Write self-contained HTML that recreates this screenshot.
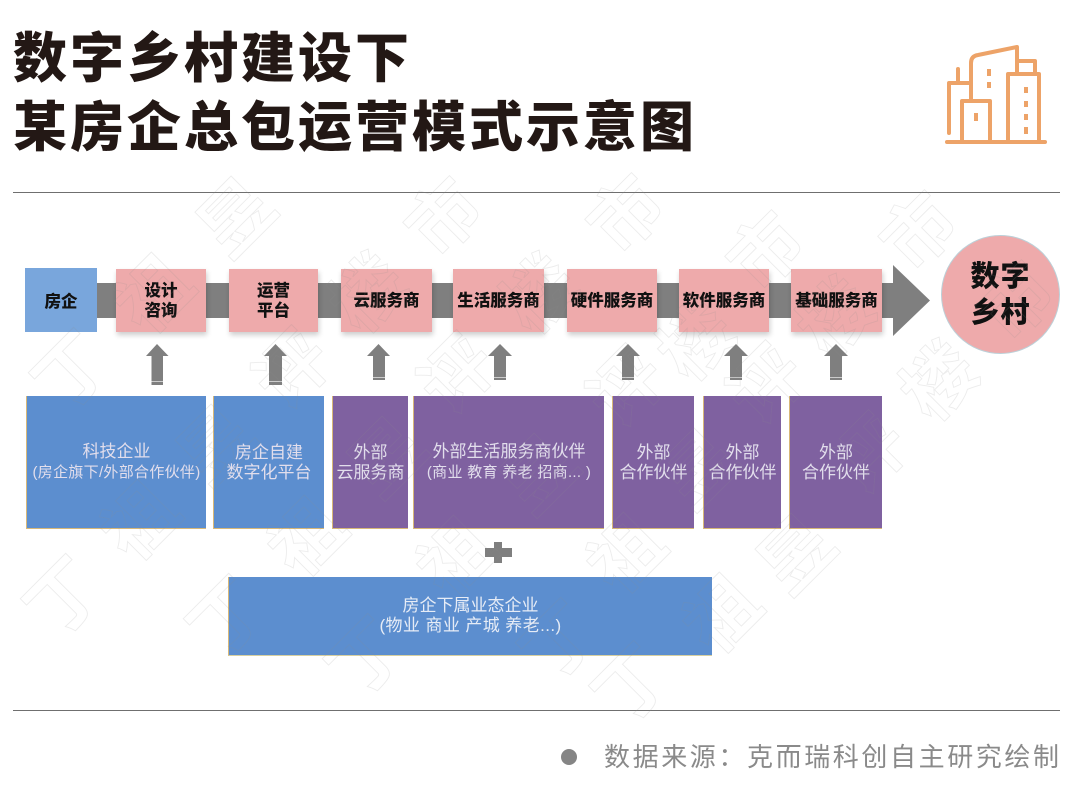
<!DOCTYPE html>
<html lang="zh">
<head>
<meta charset="utf-8">
<title>数字乡村建设下某房企总包运营模式示意图</title>
<style>
html,body{margin:0;padding:0;background:#fff}
#p{position:relative;width:1080px;height:802px;overflow:hidden;background:#fff;font-family:"Liberation Sans","Noto Sans CJK SC",sans-serif}
.a{position:absolute}
.t{position:absolute;left:13px;color:#231815;font-size:54px;font-weight:900;letter-spacing:3px;line-height:60px;white-space:nowrap}
.l{position:absolute;left:13px;width:1047px;height:1px;background:#6f6f6f}
.b{position:absolute;display:flex;align-items:center;justify-content:center;text-align:center;box-sizing:border-box}
.pk{top:269px;height:63px;background:#eeaaab;box-shadow:1px 3px 5px rgba(0,0,0,.2);color:#111;font-size:16.5px;font-weight:900;line-height:20px;white-space:nowrap}
.lo{top:396px;height:133px;color:#e2deec;font-size:17px;line-height:20px;white-space:nowrap;padding-top:1px;border-left:1px solid #d8b878;border-bottom:1px solid #d8b878}
.s{font-size:15px;letter-spacing:.3px}
.bl{background:#5c8ecf}
.pu{background:#7f61a0}
</style>
</head>
<body>
<div id="p">
<div class="t" style="top:29px">数字乡村建设下</div>
<div class="t" style="top:98px">某房企总包运营模式示意图</div>
<div class="l" style="top:192px"></div>
<div class="l" style="top:710px"></div>

<svg class="a" style="left:0;top:0" width="1080" height="802" viewBox="0 0 1080 802">
<g fill="none" stroke="#eda368" stroke-width="4" stroke-linecap="round" stroke-linejoin="round">
<path d="M947 142H1045"/>
<path d="M949 133V83H969"/>
<path d="M958 69V82"/>
<path d="M971 100V63Q971 56 978 55L1017 47V72"/>
<path d="M962 140V101H990V140"/>
<path d="M1008 140V74H1039V140"/>
<path d="M1018 61H1035V72"/>
<path d="M976 113V121M989 69V76M989 82V88M1026 87V93M1026 101V107M1026 114V120M1026 127V134" stroke-linecap="butt"/>
</g>
<rect x="97" y="283" width="796" height="35" fill="#7f7f7f"/>
<path d="M893 265L930 300.500L893 336Z" fill="#7f7f7f"/>
<g fill="#7f7f7f">
<path d="M157 344L168.500 356H163V385H151.500V356H146Z"/>
<path d="M275.500 344L287 356H282V385H269V356H264Z"/>
<path d="M378.500 344L390 356H385V380H373V356H367Z"/>
<path d="M500 344L512 356H506V380H494V356H488Z"/>
<path d="M628 344L640 356H634V380H622V356H616Z"/>
<path d="M736 344L748 356H742V380H730V356H724Z"/>
<path d="M836 344L848 356H842V380H830V356H824Z"/>
<rect x="494" y="542" width="8" height="21"/>
<rect x="485" y="548" width="27" height="9"/>
</g>
<g fill="#fff" opacity=".6">
<rect x="151" y="381" width="13" height="1"/>
<rect x="269" y="381" width="13" height="1"/>
<rect x="373" y="377" width="12" height="1"/>
<rect x="494" y="377" width="12" height="1"/>
<rect x="622" y="377" width="12" height="1"/>
<rect x="730" y="377" width="12" height="1"/>
<rect x="830" y="377" width="12" height="1"/>
</g>
<circle cx="569" cy="757" r="8" fill="#858585"/>
</svg>

<div class="b" style="left:25px;top:268px;width:72px;height:64px;background:#79a6dc;color:#111;font-size:16.5px;font-weight:900">房企</div>
<div class="b pk" style="left:116px;width:90px"><div>设计<br>咨询</div></div>
<div class="b pk" style="left:229px;width:89px"><div>运营<br>平台</div></div>
<div class="b pk" style="left:341px;width:91px">云服务商</div>
<div class="b pk" style="left:453px;width:91px">生活服务商</div>
<div class="b pk" style="left:567px;width:90px">硬件服务商</div>
<div class="b pk" style="left:679px;width:90px">软件服务商</div>
<div class="b pk" style="left:791px;width:91px">基础服务商</div>

<div class="b" style="left:941px;top:235px;width:119px;height:119px;border-radius:50%;background:#eeaaab;border:1px solid #bcd0d8;color:#111;font-size:29px;font-weight:900;line-height:36px;letter-spacing:1px"><div>数字<br>乡村</div></div>

<div class="b lo bl" style="left:26px;width:180px"><div>科技企业<br><span class="s">(房企旗下/外部合作伙伴)</span></div></div>
<div class="b lo bl" style="left:213px;width:111px"><div>房企自建<br>数字化平台</div></div>
<div class="b lo pu" style="left:332px;width:76px"><div>外部<br>云服务商</div></div>
<div class="b lo pu" style="left:413px;width:191px"><div>外部生活服务商伙伴<br><span class="s">(商业 教育 养老 招商... )</span></div></div>
<div class="b lo pu" style="left:612px;width:82px"><div>外部<br>合作伙伴</div></div>
<div class="b lo pu" style="left:703px;width:78px"><div>外部<br>合作伙伴</div></div>
<div class="b lo pu" style="left:789px;width:93px"><div>外部<br>合作伙伴</div></div>
<div class="b bl" style="left:228px;top:577px;width:484px;height:79px;color:#e6ecf6;font-size:17px;line-height:20px;border-left:1px solid #d8b878;border-bottom:1px solid #d8d0a0;white-space:nowrap"><div>房企下属业态企业<br><span style="letter-spacing:.4px">(物业 商业 产城 养老...)</span></div></div>

<div class="a" style="left:604px;top:739px;color:#8a8a8a;font-size:26px;line-height:36px;letter-spacing:2.600px;white-space:nowrap">数据来源：克而瑞科创自主研究绘制</div>

<svg class="a" style="left:0;top:0;pointer-events:none" width="1080" height="802" viewBox="0 0 1080 802">
<g transform="translate(9 4)" font-family="'Liberation Sans','Noto Sans CJK SC',sans-serif" font-size="72" font-weight="700" fill="none" stroke="#8d8d8d" stroke-opacity=".17" stroke-width=".9" text-anchor="middle">
<text transform="translate(63 367) rotate(-45) translate(0 26)">丁</text>
<text transform="translate(145 290) rotate(-45) translate(0 26)">祖</text>
<text transform="translate(227 213) rotate(-45) translate(0 26)">昱</text>
<text transform="translate(55 593) rotate(-45) translate(0 26)">丁</text>
<text transform="translate(131 517) rotate(-45) translate(0 26)">祖</text>
<text transform="translate(207 441) rotate(-45) translate(0 26)">昱</text>
<text transform="translate(283 365) rotate(-45) translate(0 26)">评</text>
<text transform="translate(359 289) rotate(-45) translate(0 26)">楼</text>
<text transform="translate(435 213) rotate(-45) translate(0 26)">市</text>
<text transform="translate(218 613) rotate(-45) translate(0 26)">丁</text>
<text transform="translate(298 533) rotate(-45) translate(0 26)">祖</text>
<text transform="translate(378 453) rotate(-45) translate(0 26)">昱</text>
<text transform="translate(448 370) rotate(-45) translate(0 26)">评</text>
<text transform="translate(530 290) rotate(-45) translate(0 26)">楼</text>
<text transform="translate(617 210) rotate(-45) translate(0 26)">市</text>
<text transform="translate(357 653) rotate(-45) translate(0 26)">丁</text>
<text transform="translate(447 553) rotate(-45) translate(0 26)">祖</text>
<text transform="translate(530 470) rotate(-45) translate(0 26)">昱</text>
<text transform="translate(617 383) rotate(-45) translate(0 26)">评</text>
<text transform="translate(687 337) rotate(-45) translate(0 26)">楼</text>
<text transform="translate(757 247) rotate(-45) translate(0 26)">市</text>
<text transform="translate(550 637) rotate(-45) translate(0 26)">丁</text>
<text transform="translate(617 550) rotate(-45) translate(0 26)">祖</text>
<text transform="translate(690 465) rotate(-45) translate(0 26)">昱</text>
<text transform="translate(757 380) rotate(-45) translate(0 26)">评</text>
<text transform="translate(827 313) rotate(-45) translate(0 26)">楼</text>
<text transform="translate(910 227) rotate(-45) translate(0 26)">市</text>
<text transform="translate(623 680) rotate(-45) translate(0 26)">丁</text>
<text transform="translate(713 610) rotate(-45) translate(0 26)">祖</text>
<text transform="translate(787 550) rotate(-45) translate(0 26)">昱</text>
<text transform="translate(860 450) rotate(-45) translate(0 26)">评</text>
<text transform="translate(930 377) rotate(-45) translate(0 26)">楼</text>
<text transform="translate(1007 297) rotate(-45) translate(0 26)">市</text>
</g>
</svg>
</div>
</body>
</html>
